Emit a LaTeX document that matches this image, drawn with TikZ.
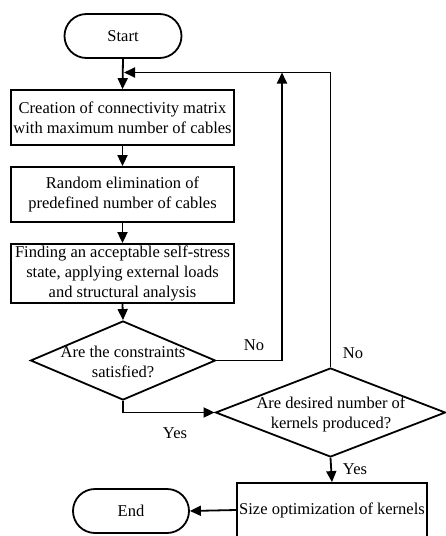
\documentclass[tikz,border=0pt]{standalone}
\usepackage{fontspec}
\setmainfont{Liberation Serif}
\usetikzlibrary{shapes.geometric,shapes.misc,arrows.meta}
\tikzset{
  term/.style={draw, rounded rectangle, line width=1.8pt, minimum width=117pt, minimum height=44pt, inner sep=0pt},
  proc/.style={draw, rectangle, line width=1.8pt, inner sep=0pt, align=center},
  dec/.style={draw, diamond, line width=1.8pt, inner sep=0pt},
  dectext/.style={align=center, inner sep=0pt},
  lbl/.style={inner sep=0pt},
  conn/.style={line width=1.8pt, -{Triangle[length=11pt,width=10pt]}},
  plain/.style={line width=1.8pt}
}
\begin{document}
\begin{tikzpicture}[x=1pt,y=-1pt, font=\fontsize{16.5}{20}\selectfont]
\useasboundingbox (0,0) rectangle (446,536);
\node[term] (start) at (123,36) {Start};
\node[proc, minimum width=223pt, minimum height=55pt] (b1) at (122.5,117.5) {Creation of connectivity matrix\\with maximum number of cables};
\node[proc, minimum width=223pt, minimum height=55pt] (b2) at (122.5,194.5) {Random elimination of\\predefined number of cables};
\node[proc, minimum width=223pt, minimum height=59pt] (b3) at (122.5,273.5) {Finding an acceptable self-stress\\state, applying external loads\\and structural analysis};
\node[dec, minimum width=185pt, minimum height=79pt] (d1) at (123,360.5) {};
\node[dectext] (d1t) at (123,362) {Are the constraints\\satisfied?};
\node[dec, minimum width=230pt, minimum height=89pt] (d2) at (330.5,412.5) {};
\node[dectext] (d2t) at (331,414) {Are desired number of\\kernels produced?};
\node[proc, minimum width=190pt, minimum height=54pt] (b4) at (332,510) {Size optimization of kernels};
\node[term, minimum width=116pt] (end) at (131,511) {End};
\coordinate (j0) at (124,72.5);
\coordinate (j1) at (282,72.5);
\draw[conn] (start.south) -- (b1.north);
\draw[conn] (b1.south) -- (b2.north);
\draw[conn] (b2.south) -- (b3.north);
\draw[conn] (b3.south) -- (d1.north);
\draw[conn] (d1.east) -| (j1);
\draw[conn] (d2.north) |- (j0);
\draw[conn] (d1.south) |- (d2.west);
\draw[conn] (d2.south) -- (b4.north);
\draw[conn] (b4.west) -- (end.east);
\node[lbl] (no1) at (254,345) {No};
\node[lbl] (no2) at (353,353) {No};
\node[lbl] (yes1) at (175,433) {Yes};
\node[lbl] (yes2) at (355,469) {Yes};
\end{tikzpicture}
\end{document}
